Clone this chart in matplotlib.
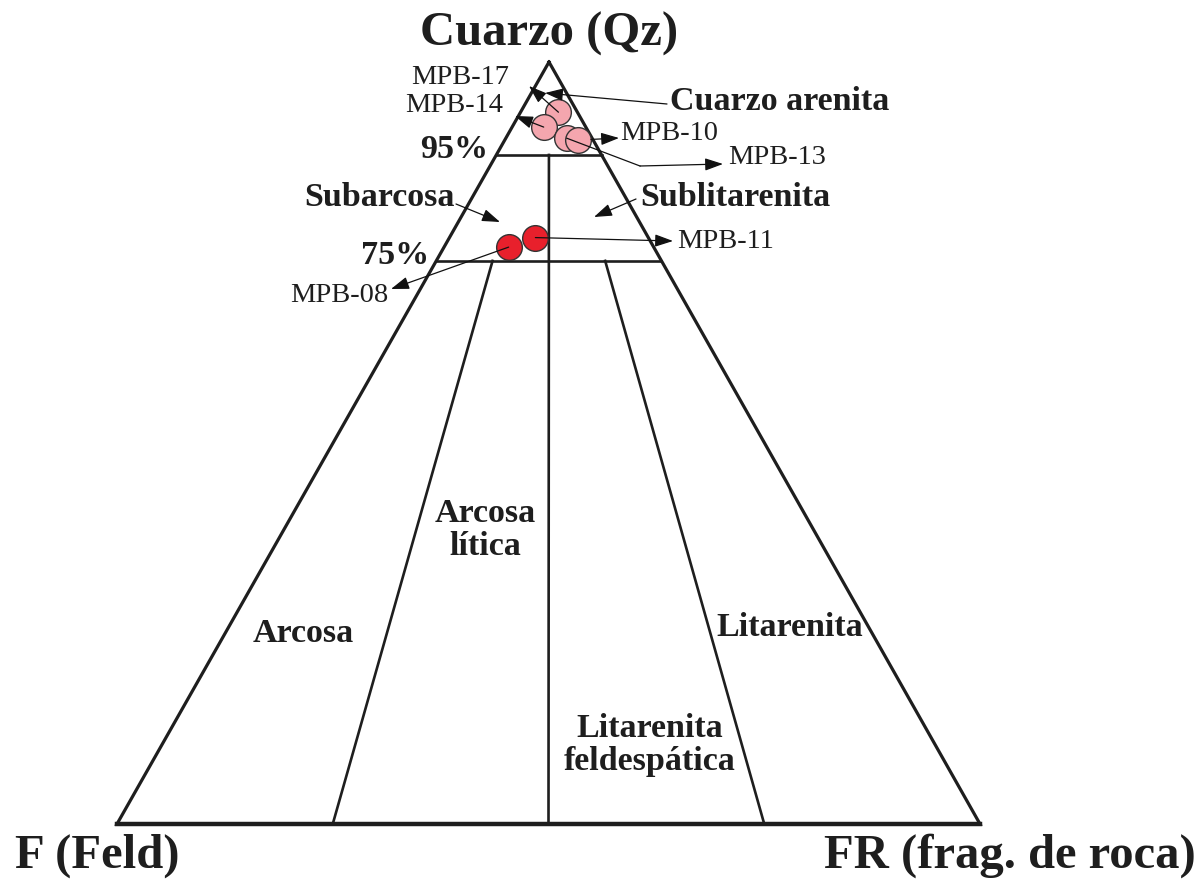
import numpy as np
import matplotlib
matplotlib.use('Agg')
import matplotlib.pyplot as plt

# Folk (1974) QFR diagram -- samples MPB
samples = ['MPB-17', 'MPB-14', 'MPB-13', 'MPB-10', 'MPB-11', 'MPB-08']
qz = [97.3, 96.5, 95.9, 95.8, 79.4, 77.6]     # cuarzo %
feld = [0.9, 2.0, 1.2, 0.7, 11.7, 15.5]       # feldespato %
frag = [1.8, 1.5, 2.9, 3.5, 8.9, 6.9]         # fragmentos de roca %
group = ['qa', 'qa', 'qa', 'qa', 'sub', 'sub']

colors = {'qa': '#f4a6ae', 'sub': '#e8202c'}

# triangle corners on the canvas (pixel-like units)
APEX = (549, 62)
LEFT = (117, 824)
RIGHT = (980, 824)
# the diagram is schematic: the Qz axis is stretched near the apex
Q_STEPS = [-100, -95, -75, 0]
DEPTH = [0, 0.122, 0.261, 1]


def tern(q, f, r):
    d = np.interp(-q, Q_STEPS, DEPTH)
    y = APEX[1] + d * (LEFT[1] - APEX[1])
    xl = APEX[0] + d * (LEFT[0] - APEX[0])
    xr = APEX[0] + d * (RIGHT[0] - APEX[0])
    frac = r / (f + r) if f + r > 0 else 0.5
    return xl + frac * (xr - xl), y


fig = plt.figure(figsize=(12.02, 8.82), dpi=100)
ax = fig.add_axes([0, 0, 1, 1])
ax.set_xlim(0, 1202)
ax.set_ylim(882, 0)
ax.axis('off')

serif = 'Liberation Serif'
lc = '#1e1e1e'

# outline
ax.plot([APEX[0], LEFT[0], RIGHT[0], APEX[0]], [APEX[1], LEFT[1], RIGHT[1], APEX[1]],
        color=lc, lw=2.3, solid_joinstyle='miter')
ax.plot([LEFT[0], RIGHT[0]], [LEFT[1], RIGHT[1]], color=lc, lw=3.2)

# field boundaries
def seg(p, q, lw=1.9):
    ax.plot([p[0], q[0]], [p[1], q[1]], color=lc, lw=lw)

seg(tern(95, 5, 0), tern(95, 0, 5))
seg(tern(75, 25, 0), tern(75, 0, 25))
seg(tern(95, 2.5, 2.5), tern(0, 50, 50))
seg(tern(75, 18.75, 6.25), tern(0, 75, 25))
seg(tern(75, 6.25, 18.75), tern(0, 25, 75))

# samples
pts = [tern(q, f, r) for q, f, r in zip(qz, feld, frag)]
for (x, y), g in zip(pts, group):
    ax.plot(x, y, 'o', ms=18.5, mfc=colors[g], mec='#333333', mew=1.0, zorder=3)
P = dict(zip(samples, pts))

arrow = dict(arrowstyle='-|>,head_length=1.1,head_width=0.38', color='#111111',
             lw=0.9, shrinkA=0, shrinkB=0)


def arr(tail, tip, shrinkA=0):
    a = dict(arrow)
    a['shrinkA'] = shrinkA
    ax.annotate('', xy=tip, xytext=tail, arrowprops=a, zorder=4)


lab = dict(family=serif, fontsize=20.5, color='#1e1e1e', va='center')
bold = dict(family=serif, fontsize=24.5, fontweight='bold', color='#1e1e1e', va='center')

# sample labels
arr(P['MPB-17'], (529, 86))
ax.text(509, 78, 'MPB-17', ha='right', **lab)
arr(P['MPB-14'], (515, 116))
ax.text(503, 106, 'MPB-14', ha='right', **lab)
arr(P['MPB-10'], (619, 138), shrinkA=9)
ax.text(620, 134, 'MPB-10', ha='left', **lab)
ax.plot([P['MPB-13'][0], 640], [P['MPB-13'][1], 166], color='#111111', lw=0.9, zorder=4)
arr((640, 166), (723, 164))
ax.text(728, 158, 'MPB-13', ha='left', **lab)
arr(P['MPB-11'], (673, 241))
ax.text(677, 241, 'MPB-11', ha='left', **lab)
arr(P['MPB-08'], (391, 289))
ax.text(388, 296, 'MPB-08', ha='right', **lab)

# field names with pointers
ax.text(670, 101, 'Cuarzo arenita', ha='left', **bold)
arr((667, 104), (545, 93))
ax.text(455, 198, 'Subarcosa', ha='right', **bold)
arr((456, 204), (500, 222))
ax.text(640, 197, 'Sublitarenita', ha='left', **bold)
arr((636, 199), (594, 217))

ax.text(488, 150, '95%', ha='right', **bold)
ax.text(429, 255, '75%', ha='right', **bold)

# field names inside the triangle
ax.text(303, 633, 'Arcosa', ha='center', **bold)
ax.text(485, 530, 'Arcosa\nlítica', ha='center', linespacing=1.1, **bold)
ax.text(790, 628, 'Litarenita', ha='center', **bold)
ax.text(650, 745, 'Litarenita\nfeldespática', ha='center', linespacing=1.05, **bold)

# corners
corner = dict(family=serif, fontsize=35, fontweight='bold', color='#1e1e1e', va='baseline')
ax.text(549, 46, 'Cuarzo (Qz)', ha='center', **corner)
ax.text(15, 868, 'F (Feld)', ha='left', **corner)
ax.text(1196, 868, 'FR (frag. de roca)', ha='right', **corner)

fig.savefig('out.png', dpi=100)
